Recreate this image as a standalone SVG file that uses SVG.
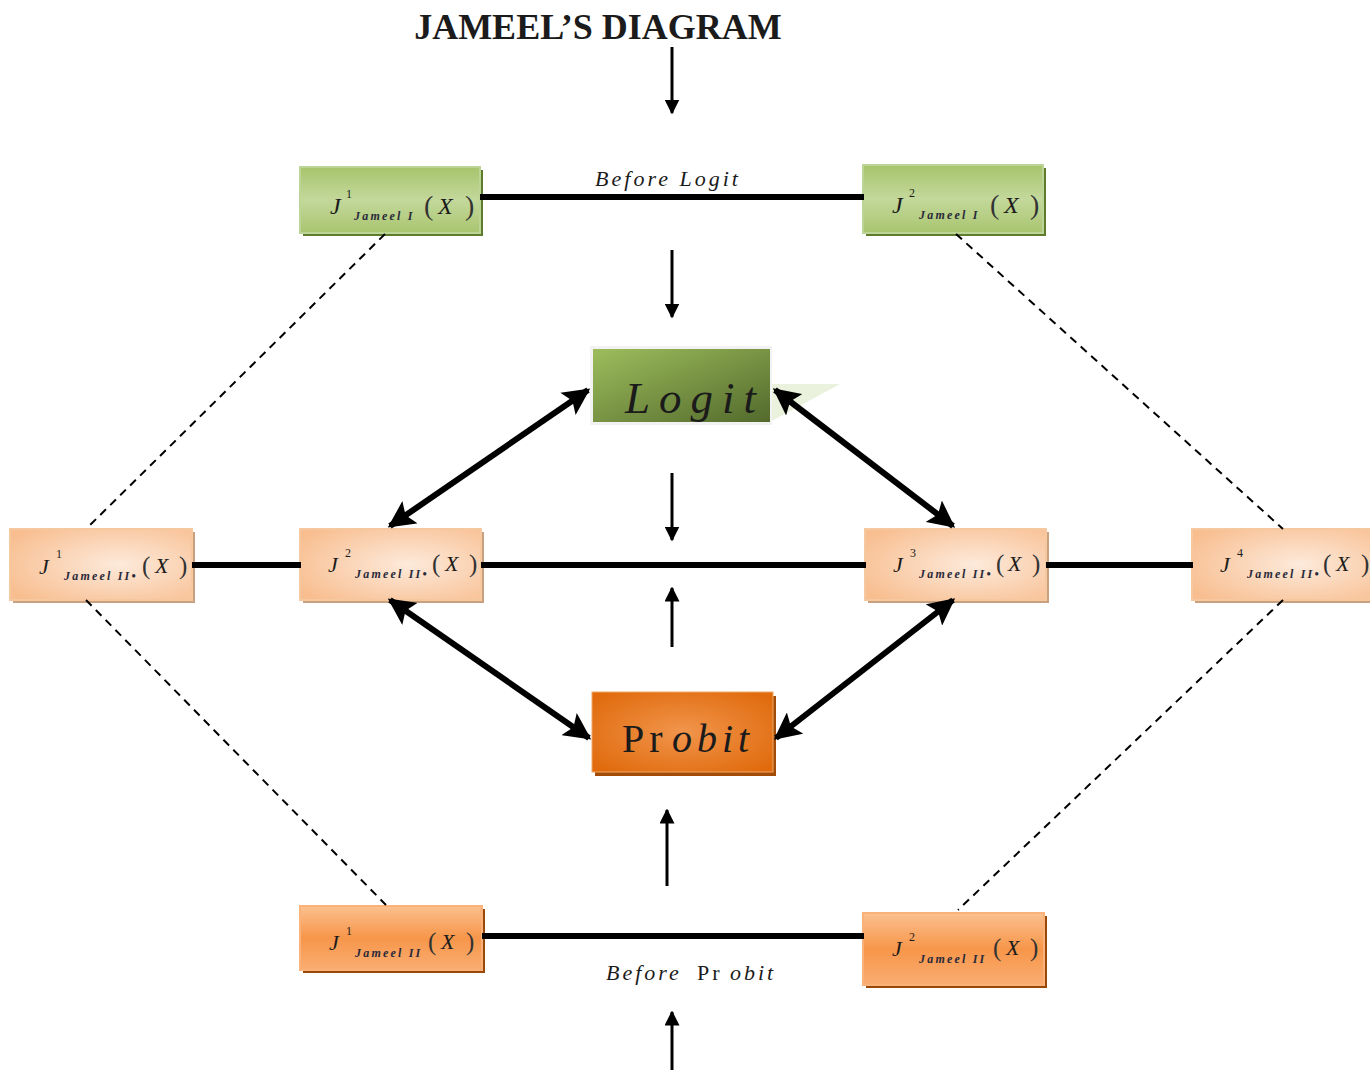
<svg xmlns="http://www.w3.org/2000/svg" width="1370" height="1070" viewBox="0 0 1370 1070">
<defs>
<linearGradient id="gLight" x1="0" y1="0" x2="0" y2="1"><stop offset="0" stop-color="#a7c46c"/><stop offset="0.5" stop-color="#c3d89b"/><stop offset="1" stop-color="#a9c56f"/></linearGradient>
<linearGradient id="gDark" x1="0" y1="0" x2="1" y2="1"><stop offset="0" stop-color="#9dbd5c"/><stop offset="1" stop-color="#536a2c"/></linearGradient>
<radialGradient id="peach" cx="0.6" cy="0.5" r="0.7"><stop offset="0" stop-color="#fdeadb"/><stop offset="1" stop-color="#f8be90"/></radialGradient>
<radialGradient id="probitG" cx="0.5" cy="0.5" r="0.65"><stop offset="0" stop-color="#f1954c"/><stop offset="1" stop-color="#e06a0c"/></radialGradient>
<linearGradient id="orangeG" x1="0" y1="0" x2="0" y2="1"><stop offset="0" stop-color="#fbc08f"/><stop offset="0.5" stop-color="#f7964a"/><stop offset="1" stop-color="#f9ad72"/></linearGradient>
<marker id="ah" viewBox="0 0 10 10" refX="9" refY="5" markerWidth="5" markerHeight="5" orient="auto"><path d="M0,0 L10,5 L0,10 Z" fill="#000"/></marker>
<marker id="ahT" viewBox="0 0 10 10" refX="9" refY="5" markerWidth="4.5" markerHeight="4.5" orient="auto-start-reverse"><path d="M0,0 L10,5 L0,10 L2,5 Z" fill="#000"/></marker>
</defs>
<style>
.t{font-family:"Liberation Serif","DejaVu Serif",serif;fill:#1b1b1b}
.i{font-style:italic}
.J{font-style:italic;font-size:24px}
.Js{font-style:italic;font-size:22px}
.sub{font-style:italic;font-weight:bold;font-size:12px;letter-spacing:2.2px;fill:#2a2a3a}
.sup{font-size:12px}
.par{font-size:28px;fill:#333}
.pars{font-size:25px;fill:#333}
.thin{stroke:#000;stroke-width:3;fill:none;marker-end:url(#ah)}
.thick{stroke:#000;stroke-width:6;fill:none;marker-end:url(#ahT);marker-start:url(#ahT)}
.bar{stroke:#000;stroke-width:6}
.dash{stroke:#000;stroke-width:2;stroke-dasharray:8,6}
.bl{stroke:#bcd496;stroke-width:2}
.bp{stroke:#f6c8a0;stroke-width:2}
.bo{stroke:#fbb27a;stroke-width:2}
</style>
<rect width="1370" height="1070" fill="#fff"/>
<text class="t" x="598" y="39" text-anchor="middle" style="font-size:36px;font-weight:bold">JAMEEL’S DIAGRAM</text>
<g id="n_j1_jameel_i">
<rect x="303" y="170" width="180" height="66" fill="#5f7b2d"/>
<rect x="300" y="167" width="180" height="66" fill="url(#gLight)" class="bl"/>
<text class="t"><tspan class="J" x="330" y="214">J</tspan><tspan class="sup" x="346" y="198">1</tspan><tspan class="sub" x="354" y="220">Jameel I</tspan><tspan class="par" x="424" y="215">(</tspan><tspan class="J" x="438" y="214">X</tspan><tspan class="par" x="465" y="215">)</tspan></text>
</g>
<g id="n_j2_jameel_i">
<rect x="866" y="168" width="180" height="68" fill="#5f7b2d"/>
<rect x="863" y="165" width="180" height="68" fill="url(#gLight)" class="bl"/>
<text class="t"><tspan class="J" x="892" y="213">J</tspan><tspan class="sup" x="909" y="197">2</tspan><tspan class="sub" x="919" y="219">Jameel I</tspan><tspan class="par" x="990" y="214">(</tspan><tspan class="J" x="1004" y="213">X</tspan><tspan class="par" x="1030" y="214">)</tspan></text>
</g>
<g id="n_logit">
<polygon points="770,384 840,384 770,422" fill="#eaf1dd"/>
<rect x="590" y="346" width="182" height="79" fill="#f2f2f2"/>
<rect x="593" y="349" width="177" height="73" fill="url(#gDark)"/>
<text class="t i" x="625" y="413" style="font-size:45px;letter-spacing:9px">Logit</text>
</g>
<g id="n_j1_jameel_ii_star">
<rect x="13" y="532" width="182" height="71" fill="#caa17e"/>
<rect x="10" y="529" width="182" height="71" fill="url(#peach)" class="bp"/>
<text class="t"><tspan class="Js" x="39" y="574">J</tspan><tspan class="sup" x="56" y="558">1</tspan><tspan class="sub" x="64" y="580">Jameel II•</tspan><tspan class="pars" x="142" y="574">(</tspan><tspan class="Js" x="155" y="573">X</tspan><tspan class="pars" x="179" y="574">)</tspan></text>
</g>
<g id="n_j2_jameel_ii_star">
<rect x="303" y="532" width="181" height="71" fill="#caa17e"/>
<rect x="300" y="529" width="181" height="71" fill="url(#peach)" class="bp"/>
<text class="t"><tspan class="Js" x="328" y="572">J</tspan><tspan class="sup" x="345" y="557">2</tspan><tspan class="sub" x="355" y="578">Jameel II•</tspan><tspan class="pars" x="432" y="572">(</tspan><tspan class="Js" x="445" y="571">X</tspan><tspan class="pars" x="469" y="572">)</tspan></text>
</g>
<g id="n_j3_jameel_ii_star">
<rect x="868" y="532" width="181" height="71" fill="#caa17e"/>
<rect x="865" y="529" width="181" height="71" fill="url(#peach)" class="bp"/>
<text class="t"><tspan class="Js" x="893" y="572">J</tspan><tspan class="sup" x="910" y="557">3</tspan><tspan class="sub" x="919" y="578">Jameel II•</tspan><tspan class="pars" x="996" y="572">(</tspan><tspan class="Js" x="1008" y="571">X</tspan><tspan class="pars" x="1032" y="572">)</tspan></text>
</g>
<g id="n_j4_jameel_ii_star">
<rect x="1195" y="532" width="178" height="71" fill="#caa17e"/>
<rect x="1192" y="529" width="180" height="71" fill="url(#peach)" class="bp"/>
<text class="t"><tspan class="Js" x="1220" y="572">J</tspan><tspan class="sup" x="1237" y="557">4</tspan><tspan class="sub" x="1247" y="578">Jameel II•</tspan><tspan class="pars" x="1323" y="572">(</tspan><tspan class="Js" x="1336" y="571">X</tspan><tspan class="pars" x="1361" y="572">)</tspan></text>
</g>
<g id="n_probit">
<rect x="595" y="696" width="181" height="80" fill="#a34c07"/>
<rect x="592" y="692" width="181" height="80" fill="url(#probitG)" stroke="#f2a868" stroke-width="1"/>
<text class="t" y="752" style="font-size:40px;letter-spacing:5px"><tspan x="622">Pr</tspan><tspan class="i" x="672">obit</tspan></text>
</g>
<g id="n_j1_jameel_ii">
<rect x="303" y="909" width="182" height="64" fill="#984807"/>
<rect x="300" y="906" width="182" height="64" fill="url(#orangeG)" class="bo"/>
<text class="t"><tspan class="Js" x="329" y="950">J</tspan><tspan class="sup" x="346" y="935">1</tspan><tspan class="sub" x="355" y="957">Jameel II</tspan><tspan class="pars" x="428" y="950">(</tspan><tspan class="Js" x="441" y="949">X</tspan><tspan class="pars" x="466" y="950">)</tspan></text>
</g>
<g id="n_j2_jameel_ii">
<rect x="866" y="916" width="181" height="72" fill="#984807"/>
<rect x="863" y="913" width="181" height="72" fill="url(#orangeG)" class="bo"/>
<text class="t"><tspan class="Js" x="892" y="956">J</tspan><tspan class="sup" x="909" y="941">2</tspan><tspan class="sub" x="919" y="963">Jameel II</tspan><tspan class="pars" x="993" y="956">(</tspan><tspan class="Js" x="1006" y="955">X</tspan><tspan class="pars" x="1030" y="956">)</tspan></text>
</g>
<g id="connectors">
<line class="thin" x1="672" y1="47" x2="672" y2="113"/>
<line class="thin" x1="672" y1="250" x2="672" y2="317"/>
<line class="thin" x1="672" y1="473" x2="672" y2="540"/>
<line class="thin" x1="672" y1="647" x2="672" y2="588"/>
<line class="thin" x1="667" y1="886" x2="667" y2="810"/>
<line class="thin" x1="672" y1="1070" x2="672" y2="1012"/>
<line class="bar" x1="480" y1="197" x2="864" y2="197"/>
<line class="bar" x1="192" y1="565" x2="301" y2="565"/>
<line class="bar" x1="481" y1="565" x2="866" y2="565"/>
<line class="bar" x1="1046" y1="565" x2="1193" y2="565"/>
<line class="bar" x1="482" y1="936" x2="864" y2="936"/>
<line class="thick" x1="588" y1="390" x2="390" y2="526"/>
<line class="thick" x1="775" y1="390" x2="953" y2="526"/>
<line class="thick" x1="390" y1="600" x2="589" y2="738"/>
<line class="thick" x1="953" y1="600" x2="776" y2="738"/>
<line class="dash" x1="385" y1="234" x2="86" y2="529"/>
<line class="dash" x1="956" y1="234" x2="1283" y2="529"/>
<line class="dash" x1="86" y1="600" x2="386" y2="905"/>
<line class="dash" x1="1283" y1="600" x2="958" y2="910"/>
<text class="t i" x="668" y="186" text-anchor="middle" style="font-size:22px;letter-spacing:3px">Before Logit</text>
<text class="t" y="980" style="font-size:22px;letter-spacing:3px"><tspan class="i" x="606">Before </tspan><tspan x="697">Pr</tspan><tspan class="i" x="730">obit</tspan></text>
</g>
</svg>
